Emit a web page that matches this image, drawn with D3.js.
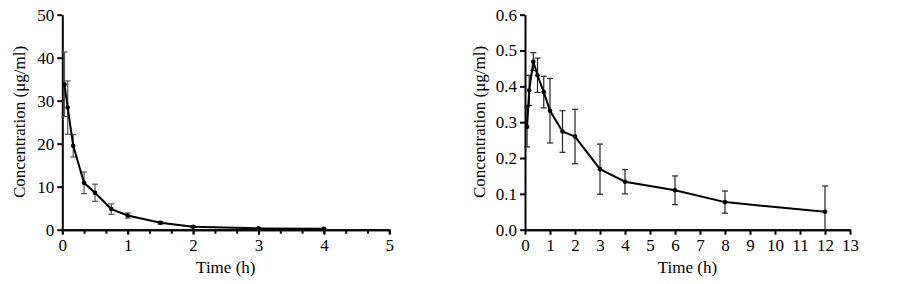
<!DOCTYPE html>
<html>
<head>
<meta charset="utf-8">
<script src="https://cdn.jsdelivr.net/npm/d3@7"></script>
<style>
body { margin: 0; background: #fff; }
svg text { font-family: "Liberation Serif", "Times New Roman", serif; fill: #000; }
</style>
</head>
<body>
<script>
// left panel
let timeA = [0.033, 0.083, 0.167, 0.333, 0.5, 0.75, 1, 1.5, 2, 3, 4];
let concA = [33.8, 28.4, 19.5, 10.9, 8.6, 4.8, 3.3, 1.6, 0.7, 0.3, 0.2];
let sdA = [7.5, 6.2, 2.6, 2.5, 2.0, 1.2, 0.6, 0.3, 0.2, 0.1, 0.1];
let xTicksA = [0, 1, 2, 3, 4, 5];
let yTicksA = [0, 10, 20, 30, 40, 50];

// right panel
let timeB = [0.083, 0.167, 0.333, 0.5, 0.75, 1, 1.5, 2, 3, 4, 6, 8, 12];
let concB = [0.287, 0.389, 0.469, 0.431, 0.384, 0.332, 0.274, 0.26, 0.169, 0.134, 0.11, 0.077, 0.05];
let sdB = [0.056, 0.042, 0.025, 0.048, 0.044, 0.09, 0.058, 0.076, 0.07, 0.034, 0.04, 0.031, 0.072];
let xTicksB = d3.range(0, 14);
let yTicksB = [0, 0.1, 0.2, 0.3, 0.4, 0.5, 0.6];

let width = 903, height = 284;
let fontFam = "Liberation Serif, Times New Roman, serif";
let svg = d3.select("body").append("svg").attr("width", width).attr("height", height);

function panel(opt) {
	let x = d3.scaleLinear().domain(opt.xDomain).range([opt.left, opt.right]);
	let y = d3.scaleLinear().domain(opt.yDomain).range([229.7, 14.7]);
	let g = svg.append("g");

	// x axis with minor ticks
	let xAxis = g.append("g").attr("transform", "translate(0,229.7)");
	xAxis.call(d3.axisBottom(x).tickValues(opt.xMinor).tickFormat("").tickSize(4).tickSizeOuter(0));
	xAxis.append("g").call(d3.axisBottom(x).tickValues(opt.xTicks).tickFormat(d3.format("d")).tickSize(5).tickSizeOuter(0));
	xAxis.selectAll("text").attr("y", 9).attr("dy", "0.71em");

	let yAxis = g.append("g").attr("transform", "translate(" + opt.left + ",0)")
		.call(d3.axisLeft(y).tickValues(opt.yTicks).tickFormat(opt.yFormat).tickSize(5).tickSizeOuter(0));
	yAxis.selectAll("text").attr("x", -8);

	g.selectAll("g").attr("font-family", fontFam).attr("font-size", 17);
	g.selectAll(".domain, .tick line").attr("stroke", "#000").attr("stroke-width", 2);

	g.append("text").attr("x", (opt.left + opt.right) / 2).attr("y", 273)
		.attr("text-anchor", "middle").attr("font-family", fontFam).attr("font-size", 17).text("Time (h)");
	g.append("text").attr("transform", "translate(" + opt.titleX + ",122) rotate(-90)")
		.attr("text-anchor", "middle").attr("font-family", fontFam).attr("font-size", 17).text("Concentration (μg/ml)");

	let pts = opt.time.map((t, i) => ({t: t, c: opt.conc[i], s: opt.sd[i]}));

	// error bars
	let eb = g.append("g").attr("stroke", opt.errColor).attr("stroke-width", 1.2).attr("fill", "none");
	pts.forEach(d => {
		let lo = Math.max(0, d.c - d.s), hi = d.c + d.s;
		eb.append("line").attr("x1", x(d.t)).attr("x2", x(d.t)).attr("y1", y(lo)).attr("y2", y(hi));
		eb.append("line").attr("x1", x(d.t) - 3).attr("x2", x(d.t) + 3).attr("y1", y(hi)).attr("y2", y(hi));
		if (d.c - d.s > 0)
			eb.append("line").attr("x1", x(d.t) - 3).attr("x2", x(d.t) + 3).attr("y1", y(lo)).attr("y2", y(lo));
	});

	let line = d3.line().x(d => x(d.t)).y(d => y(d.c));
	g.append("path").datum(pts).attr("d", line).attr("fill", "none").attr("stroke", "#000").attr("stroke-width", 2);

	g.selectAll(".pt").data(pts).enter().append("circle")
		.attr("cx", d => x(d.t)).attr("cy", d => y(d.c)).attr("r", 2.3).attr("fill", "#000");
}

panel({
	time: timeA, conc: concA, sd: sdA,
	xDomain: [0, 5], yDomain: [0, 50],
	left: 62.3, right: 389.3, titleX: 25,
	xTicks: xTicksA, xMinor: d3.range(0, 16).map(i => i / 3),
	yTicks: yTicksA, yFormat: d3.format("d"),
	errColor: "#555"
});

panel({
	time: timeB, conc: concB, sd: sdB,
	xDomain: [0, 13], yDomain: [0, 0.6],
	left: 525, right: 850, titleX: 485,
	xTicks: xTicksB, xMinor: [],
	yTicks: yTicksB, yFormat: d3.format(".1f"),
	errColor: "#222"
});
</script>
</body>
</html>
